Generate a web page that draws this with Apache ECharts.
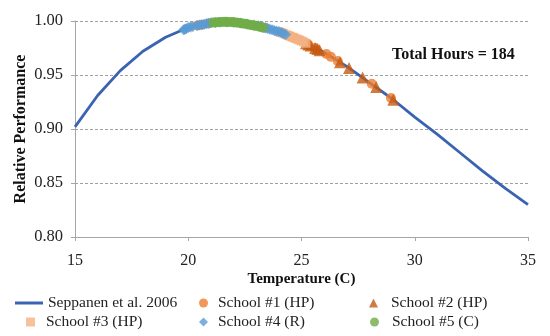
<!DOCTYPE html>
<html><head><meta charset="utf-8">
<script src="https://cdn.jsdelivr.net/npm/echarts@6/dist/echarts.min.js"></script>
<style>html,body{margin:0;padding:0;background:#fff}#c{width:550px;height:336px}</style>
</head><body><div id="c"></div>
<script>
// Seppanen et al. 2006 curve (temperature C -> relative performance)
const curveT = [15,16,17,18,19,20,21,22,23,24,25,26,27,28,29,30,31,32,33,34,35];
const curveP = [0.902,0.931,0.954,0.972,0.985,0.994,0.998,0.999,0.996,0.990,0.982,0.971,0.958,0.943,0.928,0.911,0.895,0.878,0.861,0.845,0.830];

const s1T = [20.4,20.6,20.9,23.4,24.5,24.7,24.9,25.3,25.6,26.1,26.3,26.6,28.1,28.95];
const s1P = [0.9958,0.9966,0.9978,0.9937,0.9859,0.9842,0.9825,0.9783,0.9750,0.9694,0.9668,0.9630,0.9419,0.9287];

const s2T = [25.2,25.3,25.4,25.6,25.7,25.8,26.7,27.1,27.7,28.3,29.05];
const s2P = [0.9794,0.9783,0.9772,0.9750,0.9740,0.9729,0.9617,0.9564,0.9478,0.9388,0.9271];

const s3T = [24.0,24.1,24.2,24.3,24.4,24.5,24.6,24.7,24.8,24.9,25.0,25.1,25.2];
const s3P = [0.9902,0.9893,0.9885,0.9876,0.9867,0.9859,0.9850,0.9842,0.9833,0.9825,0.9816,0.9805,0.9794];

const s4T = [19.8,19.85,19.9,20.0,20.1,20.2,20.4,20.5,20.6,20.7,20.8,20.9,21.0,21.2,21.4,21.7,22.0,22.3,22.6,22.9,23.1,23.2,23.3,23.4,23.5,23.6,23.7,23.8,23.9,24.0,24.1,24.2,24.3];
const s4P = [0.9919,0.9923,0.9928,0.9940,0.9944,0.9949,0.9958,0.9962,0.9966,0.9971,0.9975,0.9979,0.9983,0.9986,0.9989,0.9991,0.9989,0.9981,0.9972,0.9963,0.9955,0.9949,0.9943,0.9937,0.9931,0.9924,0.9918,0.9912,0.9906,0.9902,0.9893,0.9885,0.9874];

const s5T = [21.1,21.2,21.3,21.4,21.5,21.6,21.7,21.8,21.9,22.0,22.1,22.2,22.3,22.4,22.5,22.6,22.7,22.8,22.9,23.0,23.1,23.2,23.3];
const s5P = [0.9985,0.9987,0.9989,0.9990,0.9991,0.9992,0.9991,0.9991,0.9990,0.9989,0.9987,0.9984,0.9981,0.9978,0.9974,0.9970,0.9966,0.9962,0.9957,0.9955,0.9950,0.9944,0.9938];

const xTicks = [15,20,25,30,35];
const yTicks = [0.80,0.85,0.90,0.95,1.00];
const names = ['Seppanen et al. 2006','School #1 (HP)','School #2 (HP)','School #3 (HP)','School #4 (R)','School #5 (C)'];

const zip = (a,b) => a.map((v,i)=>[v,b[i]]);
const FONT = '"Liberation Serif","DejaVu Serif",serif';

function leg(name, left, top, pad, extra){
  return Object.assign({show:true, left:left, top:top, itemWidth:9, itemHeight:9, padding:0,
    data:[name], selectedMode:false,
    textStyle:{fontFamily:FONT,fontSize:15.5,color:'#222',padding:[0,0,0,pad]}}, extra||{});
}

const chart = echarts.init(document.getElementById('c'));
chart.setOption({
  animation:false,
  grid:{left:75,right:22,top:21,bottom:99},
  xAxis:{type:'value',min:15,max:35,interval:5,
    name:'Temperature (C)',nameLocation:'middle',nameGap:35,nameMoveOverlap:false,
    nameTextStyle:{fontFamily:FONT,fontSize:15,fontWeight:'bold',color:'#111'},
    axisLine:{lineStyle:{color:'#a6a6a6',width:1}},
    axisTick:{show:true,length:4,lineStyle:{color:'#a6a6a6'}},
    axisLabel:{fontFamily:FONT,fontSize:16,color:'#222',margin:16,
      formatter:v=>xTicks.includes(v)?String(v):''},
    splitLine:{show:false}},
  yAxis:{type:'value',min:0.80,max:1.00,interval:0.05,
    name:'Relative Performance',nameLocation:'middle',nameGap:46,nameMoveOverlap:false,
    nameTextStyle:{fontFamily:FONT,fontSize:16,fontWeight:'bold',color:'#111'},
    axisLine:{show:true,lineStyle:{color:'#a6a6a6',width:1}},
    axisTick:{show:true,length:4,lineStyle:{color:'#a6a6a6'}},
    axisLabel:{fontFamily:FONT,fontSize:16.5,color:'#222',margin:12,
      formatter:v=>{const t=yTicks.find(y=>Math.abs(y-v)<1e-6);return t===undefined?'':t.toFixed(2);}},
    splitLine:{show:true,lineStyle:{color:'#a0a0a0',type:[3,2],width:1}}},
  legend:[
    leg(names[0],15,295,0,{itemWidth:28,itemHeight:3,icon:'rect'}),
    leg(names[3],26,314,6,{icon:'rect'}),
    leg(names[1],199,295,5),
    leg(names[4],199,314,5),
    leg(names[2],369,295,8),
    leg(names[5],370,314,8)
  ],
  graphic:[{type:'text',left:392,top:47,style:{text:'Total Hours = 184',font:'bold 16px '+FONT,fill:'#111'}}],
  series:[
    {name:names[0],type:'line',data:zip(curveT,curveP),showSymbol:false,symbol:'none',
      lineStyle:{color:'#3a64b1',width:2.8},itemStyle:{color:'#3a64b1'},z:1},
    {name:names[1],type:'scatter',data:zip(s1T,s1P),symbol:'circle',symbolSize:10,
      itemStyle:{color:'#ed7d31'},z:2},
    {name:names[2],type:'scatter',data:zip(s2T,s2P),symbol:'triangle',symbolSize:12,
      itemStyle:{color:'#c55a11'},z:3},
    {name:names[3],type:'scatter',data:zip(s3T,s3P),symbol:'rect',symbolSize:9,
      itemStyle:{color:'#f4b183'},z:4},
    {name:names[4],type:'scatter',data:zip(s4T,s4P),symbol:'diamond',symbolSize:11,
      itemStyle:{color:'#5b9bd5'},z:5},
    {name:names[5],type:'scatter',data:zip(s5T,s5P),symbol:'circle',symbolSize:10,
      itemStyle:{color:'#70ad47'},z:6}
  ]
});
</script></body></html>
